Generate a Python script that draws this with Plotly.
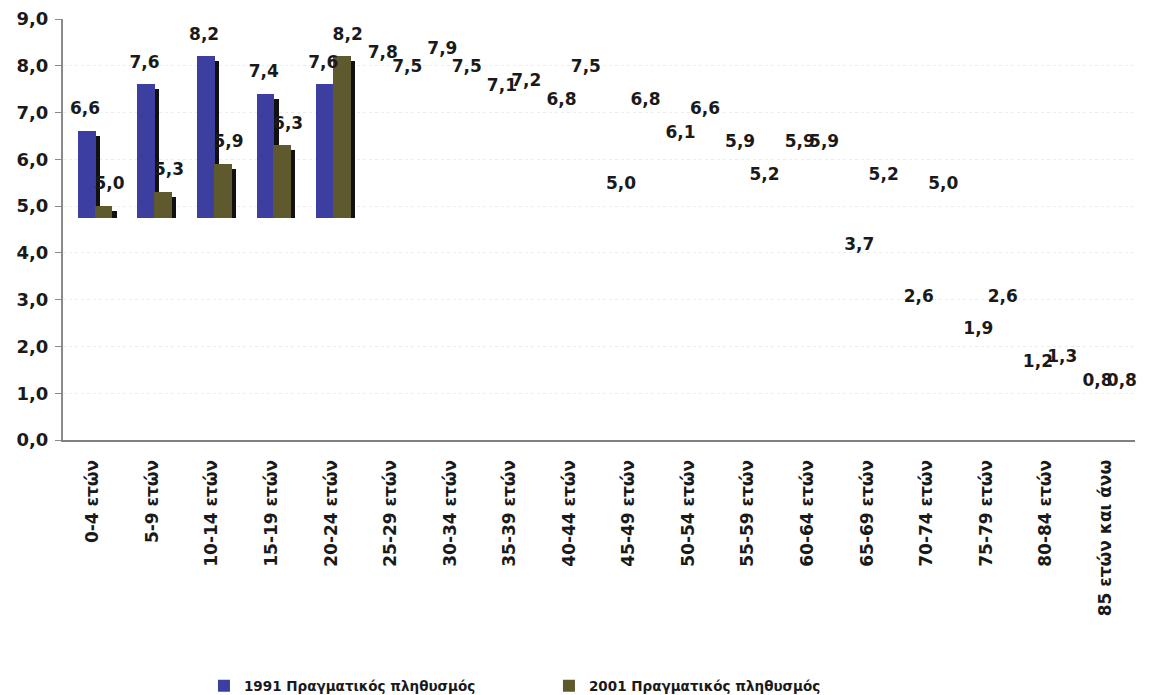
import plotly.graph_objects as go

# ---- data ----
categories = ["0-4 ετών", "5-9 ετών", "10-14 ετών", "15-19 ετών", "20-24 ετών",
              "25-29 ετών", "30-34 ετών", "35-39 ετών", "40-44 ετών", "45-49 ετών",
              "50-54 ετών", "55-59 ετών", "60-64 ετών", "65-69 ετών", "70-74 ετών",
              "75-79 ετών", "80-84 ετών", "85 ετών και άνω"]
pop_1991 = [6.6, 7.6, 8.2, 7.4, 7.6, 7.8, 7.9, 7.1, 6.8, 5.0,
            6.1, 5.9, 5.9, 3.7, 2.6, 1.9, 1.2, 0.8]
pop_2001 = [5.0, 5.3, 5.9, 6.3, 8.2, 7.5, 7.5, 7.2, 7.5, 6.8,
            6.6, 5.2, 5.9, 5.2, 5.0, 2.6, 1.3, 0.8]
series_names = ["1991 Πραγματικός πληθυσμός", "2001 Πραγματικός πληθυσμός"]
y_ticks = [0, 1, 2, 3, 4, 5, 6, 7, 8, 9]

# ---- style (the reference only renders the bars of the first groups, cut at the bottom) ----
N_DRAWN = 5
BAR_BASE = 4.75
BAR_W = 0.30
OFF_1991, OFF_2001 = -0.10, 0.18
LBL_OFF_1991, LBL_OFF_2001 = -0.13, 0.28
LBL_DY = 0.45
C_1991 = "#3c3fa0"
C_2001 = "#5f5a2e"
C_SHADOW = "#111111"
FONT = "DejaVu Sans"

idx = list(range(len(categories)))
fig = go.Figure()


def add_bars(values, off, color, name):
    xs = [i + off for i in idx[:N_DRAWN]]
    vals = values[:N_DRAWN]
    # dark 3D side
    fig.add_trace(go.Bar(
        x=[x + BAR_W / 2 + 0.03 for x in xs],
        y=[v - BAR_BASE - 0.1 for v in vals], base=BAR_BASE,
        width=0.08, marker=dict(color=C_SHADOW, line=dict(width=0)),
        showlegend=False, hoverinfo="skip"))
    fig.add_trace(go.Bar(
        x=xs, y=[v - BAR_BASE for v in vals], base=BAR_BASE,
        width=BAR_W, marker=dict(color=color, line=dict(width=0)),
        name=name, customdata=vals, hovertemplate="%{customdata}<extra></extra>"))


add_bars(pop_1991, OFF_1991, C_1991, series_names[0])
add_bars(pop_2001, OFF_2001, C_2001, series_names[1])

for values, off in ((pop_1991, LBL_OFF_1991), (pop_2001, LBL_OFF_2001)):
    fig.add_trace(go.Scatter(
        x=[i + off for i in idx], y=[v + LBL_DY for v in values],
        mode="text", text=[f"{v:.1f}".replace(".", ",") for v in values],
        textposition="middle center",
        textfont=dict(family=FONT, size=17, color="#1a1a1a", weight="bold"),
        showlegend=False, hoverinfo="skip", cliponaxis=False))

# the page body adds an 8px offset, so margins are shifted by 8px
fig.update_layout(
    width=1152, height=695,
    margin=dict(l=55, r=25, t=11, b=263),
    paper_bgcolor="white", plot_bgcolor="white",
    barmode="overlay", bargap=0,
    separators=",.",
    font=dict(family=FONT, color="#1a1a1a"),
    legend=dict(orientation="h", x=0.1315, xanchor="left",
                yref="container", y=0.0245, yanchor="middle",
                font=dict(family=FONT, size=13.5, color="#1a1a1a", weight="bold"),
                entrywidth=300, itemwidth=30, traceorder="normal"),
    xaxis=dict(range=[-0.5, len(categories) - 0.5], tickmode="array",
               tickvals=idx, ticktext=categories, tickangle=-90, automargin=False,
               showline=True, linecolor="#808080", linewidth=2,
               showgrid=False, zeroline=False, ticks="", ticklabelstandoff=11,
               tickfont=dict(family=FONT, size=17, color="#1a1a1a", weight="bold")),
    yaxis=dict(range=[0, 9], tickmode="array", tickvals=y_ticks, tickformat=".1f",
               automargin=False,
               showline=True, linecolor="#8a8a8a", linewidth=2,
               ticks="outside", ticklen=6, tickcolor="#8a8a8a", ticklabelstandoff=3,
               ticklabeloverflow="allow",
               showgrid=True, gridcolor="#ececec", griddash="dot", zeroline=False,
               tickfont=dict(family=FONT, size=18, color="#1a1a1a", weight="bold")),
)

fig.write_html("out.html")
